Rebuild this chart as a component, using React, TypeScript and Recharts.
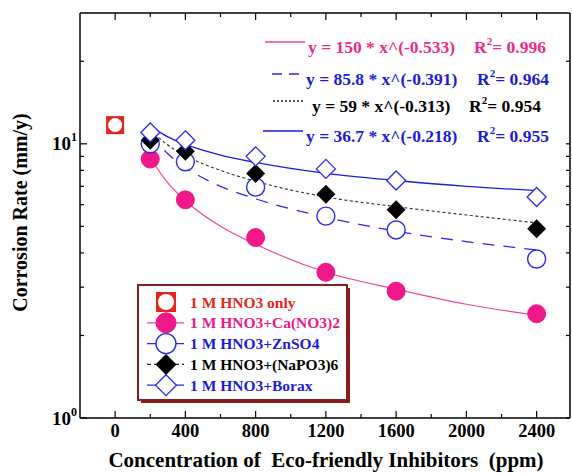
import React from "react";
import { ComposedChart, Line, Scatter, XAxis, YAxis } from "recharts";

const FONT = "'Liberation Serif', 'Times New Roman', serif";
const PINK = "#ee1889";
const PINK_LINE = "#f04595";
const BLUE = "#2a2ae8";
const BLUE_TEXT = "#1c1cd6";
const RED = "#e8231c";
const FRAME = "#8b1c1c";

// measured corrosion rates (mm/y) vs inhibitor concentration (ppm)
const ppm = [200, 400, 800, 1200, 1600, 2400];
const caNO3Rate = [8.8, 6.25, 4.55, 3.4, 2.9, 2.4];
const znSO4Rate = [10.0, 8.6, 6.95, 5.45, 4.85, 3.8];
const naPO3Rate = [10.3, 9.4, 7.8, 6.55, 5.75, 4.9];
const boraxRate = [11.0, 10.3, 9.0, 8.1, 7.35, 6.4];
const blankPpm = [0];
const blankRate = [11.7];

// power-law fit curves
const fitPpm = [200, 300, 400, 600, 800, 1200, 1600, 2000, 2400];
const caNO3Fit = [8.9, 7.2, 6.2, 5.0, 4.3, 3.4, 2.95, 2.6, 2.37];
const znSO4Fit = [10.8, 9.2, 8.2, 7.0, 6.3, 5.4, 4.8, 4.4, 4.1];
const naPO3Fit = [11.2, 9.9, 9.05, 8.0, 7.3, 6.4, 5.9, 5.5, 5.15];
const boraxFit = [11.6, 10.6, 9.95, 9.1, 8.55, 7.8, 7.35, 7.0, 6.75];

const xTicks = [0, 200, 400, 600, 800, 1000, 1200, 1400, 1600, 1800, 2000, 2200, 2400];
const yTicks = [1, 2, 3, 4, 5, 6, 7, 8, 9, 10, 20];

const fitLabels = ["y = 150 * x^(-0.533)", "y = 85.8 * x^(-0.391)", "y = 59 * x^(-0.313)", "y = 36.7 * x^(-0.218)"];
const fitR2 = ["0.996", "0.964", "0.954", "0.955"];

const legendLabels = [
  "1 M HNO3 only",
  "1 M HNO3+Ca(NO3)2",
  "1 M HNO3+ZnSO4",
  "1 M HNO3+(NaPO3)6",
  "1 M HNO3+Borax",
];

const toPoints = (xs: number[], ys: number[]) => xs.map((x, i) => ({ x, y: ys[i] }));

// ---- markers ----
function FilledCircle({ cx, cy, r = 9 }: any) {
  return <circle cx={cx} cy={cy} r={r} fill={PINK} stroke={PINK} strokeWidth={1} />;
}
function OpenCircle({ cx, cy, r = 9 }: any) {
  return <circle cx={cx} cy={cy} r={r} fill="#fff" stroke={BLUE} strokeWidth={1.4} />;
}
function FilledDiamond({ cx, cy, r = 9.5 }: any) {
  return <path d={`M${cx},${cy - r}L${cx + r},${cy}L${cx},${cy + r}L${cx - r},${cy}Z`} fill="#000" />;
}
function OpenDiamond({ cx, cy, r = 9.5 }: any) {
  return (
    <path
      d={`M${cx},${cy - r}L${cx + r},${cy}L${cx},${cy + r}L${cx - r},${cy}Z`}
      fill="#fff"
      stroke={BLUE}
      strokeWidth={1.3}
    />
  );
}
function SquareCircle({ cx, cy, r = 9 }: any) {
  return (
    <g>
      <rect x={cx - r} y={cy - r} width={2 * r} height={2 * r} fill={RED} />
      <circle cx={cx} cy={cy} r={r - 2} fill="#fff" />
    </g>
  );
}

// ---- ticks (all drawn inward, Origin style) ----
function LeftTick({ x, y, payload }: any) {
  const v = payload.value;
  const major = v === 1 || v === 10;
  return (
    <g>
      <line x1={x} y1={y} x2={x + (major ? 7 : 4)} y2={y} stroke="#000" strokeWidth={1.2} />
      {major && (
        <text x={x - 3} y={y + 6.5} textAnchor="end" fontFamily={FONT} fontWeight="bold" fontSize={19} fill="#000">
          10
          <tspan fontSize={12} dy={-9}>
            {v === 1 ? "0" : "1"}
          </tspan>
        </text>
      )}
    </g>
  );
}
function RightTick({ x, y }: any) {
  return <line x1={x} y1={y} x2={x - 4} y2={y} stroke="#000" strokeWidth={1.2} />;
}
function BottomTick({ x, y, payload }: any) {
  const major = payload.value % 400 === 0;
  return (
    <g>
      <line x1={x} y1={y} x2={x} y2={y - (major ? 7 : 4)} stroke="#000" strokeWidth={1.2} />
      {major && (
        <text x={x} y={y + 18.5} textAnchor="middle" fontFamily={FONT} fontWeight="bold" fontSize={18.5} fill="#000">
          {payload.value}
        </text>
      )}
    </g>
  );
}
function TopTick({ x, y, payload }: any) {
  const major = payload.value % 400 === 0;
  return <line x1={x} y1={y} x2={x} y2={y + (major ? 7 : 4)} stroke="#000" strokeWidth={1.2} />;
}

const eqRows = [
  { color: "#ee2a8a", stroke: PINK_LINE, dash: undefined, x1: 265, x2: 305, ly: 42, tx: 308, base: 53, rx: 474 },
  { color: BLUE_TEXT, stroke: BLUE, dash: "10 7", x1: 272, x2: 300, ly: 74, tx: 306, base: 85, rx: 477 },
  { color: "#000", stroke: "#222", dash: "2 2", x1: 273, x2: 305, ly: 101, tx: 312, base: 112, rx: 469 },
  { color: BLUE_TEXT, stroke: "#1e1ed8", dash: undefined, x1: 263, x2: 303, ly: 131, tx: 306, base: 142, rx: 477 },
];

const legendRows = [
  { color: RED, line: null, dash: undefined, Mark: SquareCircle },
  { color: PINK, line: PINK_LINE, dash: undefined, Mark: FilledCircle },
  { color: BLUE_TEXT, line: BLUE, dash: undefined, Mark: OpenCircle },
  { color: "#000", line: "#222", dash: "4 3", Mark: FilledDiamond },
  { color: BLUE_TEXT, line: BLUE, dash: undefined, Mark: OpenDiamond },
];

export default function App() {
  return (
    <div style={{ position: "absolute", left: 0, top: 0, width: 572, height: 473, background: "#fff" }}>
      <ComposedChart width={572} height={473} margin={{ top: 8, right: 0, bottom: 25, left: 40 }}>
        <XAxis
          xAxisId="b"
          dataKey="x"
          type="number"
          domain={[-200, 2590]}
          allowDataOverflow
          ticks={xTicks}
          interval={0}
          height={30}
          tickSize={0}
          tickMargin={0}
          tickLine={false}
          axisLine={{ stroke: "#000", strokeWidth: 1.5 }}
          tick={(p: any) => <BottomTick {...p} />}
        />
        <XAxis
          xAxisId="t"
          orientation="top"
          dataKey="x"
          type="number"
          domain={[-200, 2590]}
          allowDataOverflow
          ticks={xTicks}
          interval={0}
          height={5}
          tickSize={0}
          tickMargin={0}
          tickLine={false}
          axisLine={{ stroke: "#000", strokeWidth: 1.5 }}
          tick={(p: any) => <TopTick {...p} />}
        />
        <YAxis
          yAxisId="l"
          dataKey="y"
          type="number"
          scale="log"
          domain={[1, 30]}
          allowDataOverflow
          ticks={yTicks}
          interval={0}
          width={40}
          tickSize={0}
          tickMargin={0}
          tickLine={false}
          axisLine={{ stroke: "#000", strokeWidth: 1.5 }}
          tick={(p: any) => <LeftTick {...p} />}
        />
        <YAxis
          yAxisId="r"
          orientation="right"
          dataKey="y"
          type="number"
          scale="log"
          domain={[1, 30]}
          allowDataOverflow
          ticks={yTicks}
          interval={0}
          width={2}
          tickSize={0}
          tickMargin={0}
          tickLine={false}
          axisLine={{ stroke: "#000", strokeWidth: 1.5 }}
          tick={(p: any) => <RightTick {...p} />}
        />

        <Line xAxisId="b" yAxisId="l" data={toPoints(fitPpm, caNO3Fit)} dataKey="y" type="monotone" stroke={PINK_LINE} strokeWidth={1.2} dot={false} isAnimationActive={false} />
        <Line xAxisId="b" yAxisId="l" data={toPoints(fitPpm, znSO4Fit)} dataKey="y" type="monotone" stroke={BLUE} strokeWidth={1.3} strokeDasharray="12 9" dot={false} isAnimationActive={false} />
        <Line xAxisId="b" yAxisId="l" data={toPoints(fitPpm, naPO3Fit)} dataKey="y" type="monotone" stroke="#333" strokeWidth={1.1} strokeDasharray="3 2.5" dot={false} isAnimationActive={false} />
        <Line xAxisId="b" yAxisId="l" data={toPoints(fitPpm, boraxFit)} dataKey="y" type="monotone" stroke="#1e1ed8" strokeWidth={1.3} dot={false} isAnimationActive={false} />

        <Scatter xAxisId="b" yAxisId="l" data={toPoints(ppm, caNO3Rate)} dataKey="y" shape={(p: any) => <FilledCircle cx={p.cx} cy={p.cy} />} isAnimationActive={false} />
        <Scatter xAxisId="b" yAxisId="l" data={toPoints(ppm, znSO4Rate)} dataKey="y" shape={(p: any) => <OpenCircle cx={p.cx} cy={p.cy} />} isAnimationActive={false} />
        <Scatter xAxisId="b" yAxisId="l" data={toPoints(ppm, naPO3Rate)} dataKey="y" shape={(p: any) => <FilledDiamond cx={p.cx} cy={p.cy} />} isAnimationActive={false} />
        <Scatter xAxisId="b" yAxisId="l" data={toPoints(ppm, boraxRate)} dataKey="y" shape={(p: any) => <OpenDiamond cx={p.cx} cy={p.cy} />} isAnimationActive={false} />
        <Scatter xAxisId="b" yAxisId="l" data={toPoints(blankPpm, blankRate)} dataKey="y" shape={(p: any) => <SquareCircle cx={p.cx} cy={p.cy} />} isAnimationActive={false} />
      </ComposedChart>

      <svg width={572} height={473} style={{ position: "absolute", left: 0, top: 0, pointerEvents: "none" }}>
        {/* axis titles */}
        <text x={20} y={212.5} transform="rotate(-90 20 212.5)" textAnchor="middle" dominantBaseline="central" fontFamily={FONT} fontWeight="bold" fontSize={20}>
          Corrosion Rate (mm/y)
        </text>
        <text x={326} y={467} textAnchor="middle" fontFamily={FONT} fontWeight="bold" fontSize={21}>
          {"Concentration of\u00a0 Eco-friendly Inhibitors\u00a0 (ppm)"}
        </text>

        {/* fit equations */}
        {eqRows.map((r, i) => (
          <g key={i}>
            <line x1={r.x1} y1={r.ly} x2={r.x2} y2={r.ly} stroke={r.stroke} strokeWidth={1.3} strokeDasharray={r.dash} />
            <text x={r.tx} y={r.base} fontFamily={FONT} fontWeight="bold" fontSize={17.5} fill={r.color}>
              {fitLabels[i]}
            </text>
            <text x={r.rx} y={r.base} fontFamily={FONT} fontWeight="bold" fontSize={17.5} fill={r.color}>
              R<tspan fontSize={11} dy={-8}>2</tspan>
              <tspan dy={8}>= {fitR2[i]}</tspan>
            </text>
          </g>
        ))}

        {/* legend box */}
        <rect x={141} y={288} width={209} height={115} fill={FRAME} />
        <rect x={138} y={285} width={209} height={115} fill="#fff" stroke={FRAME} strokeWidth={2} />
        {legendRows.map((r, i) => {
          const cy = 302 + i * 20.8;
          const Mark = r.Mark;
          return (
            <g key={i}>
              {r.line && <line x1={147} y1={cy} x2={184} y2={cy} stroke={r.line} strokeWidth={1.3} strokeDasharray={r.dash} />}
              <Mark cx={166} cy={cy} r={i === 3 || i === 4 ? 10.5 : 10} />
              <text x={190} y={cy + 5.5} fontFamily={FONT} fontWeight="bold" fontSize={15.5} fill={r.color}>
                {legendLabels[i]}
              </text>
            </g>
          );
        })}
      </svg>
    </div>
  );
}
